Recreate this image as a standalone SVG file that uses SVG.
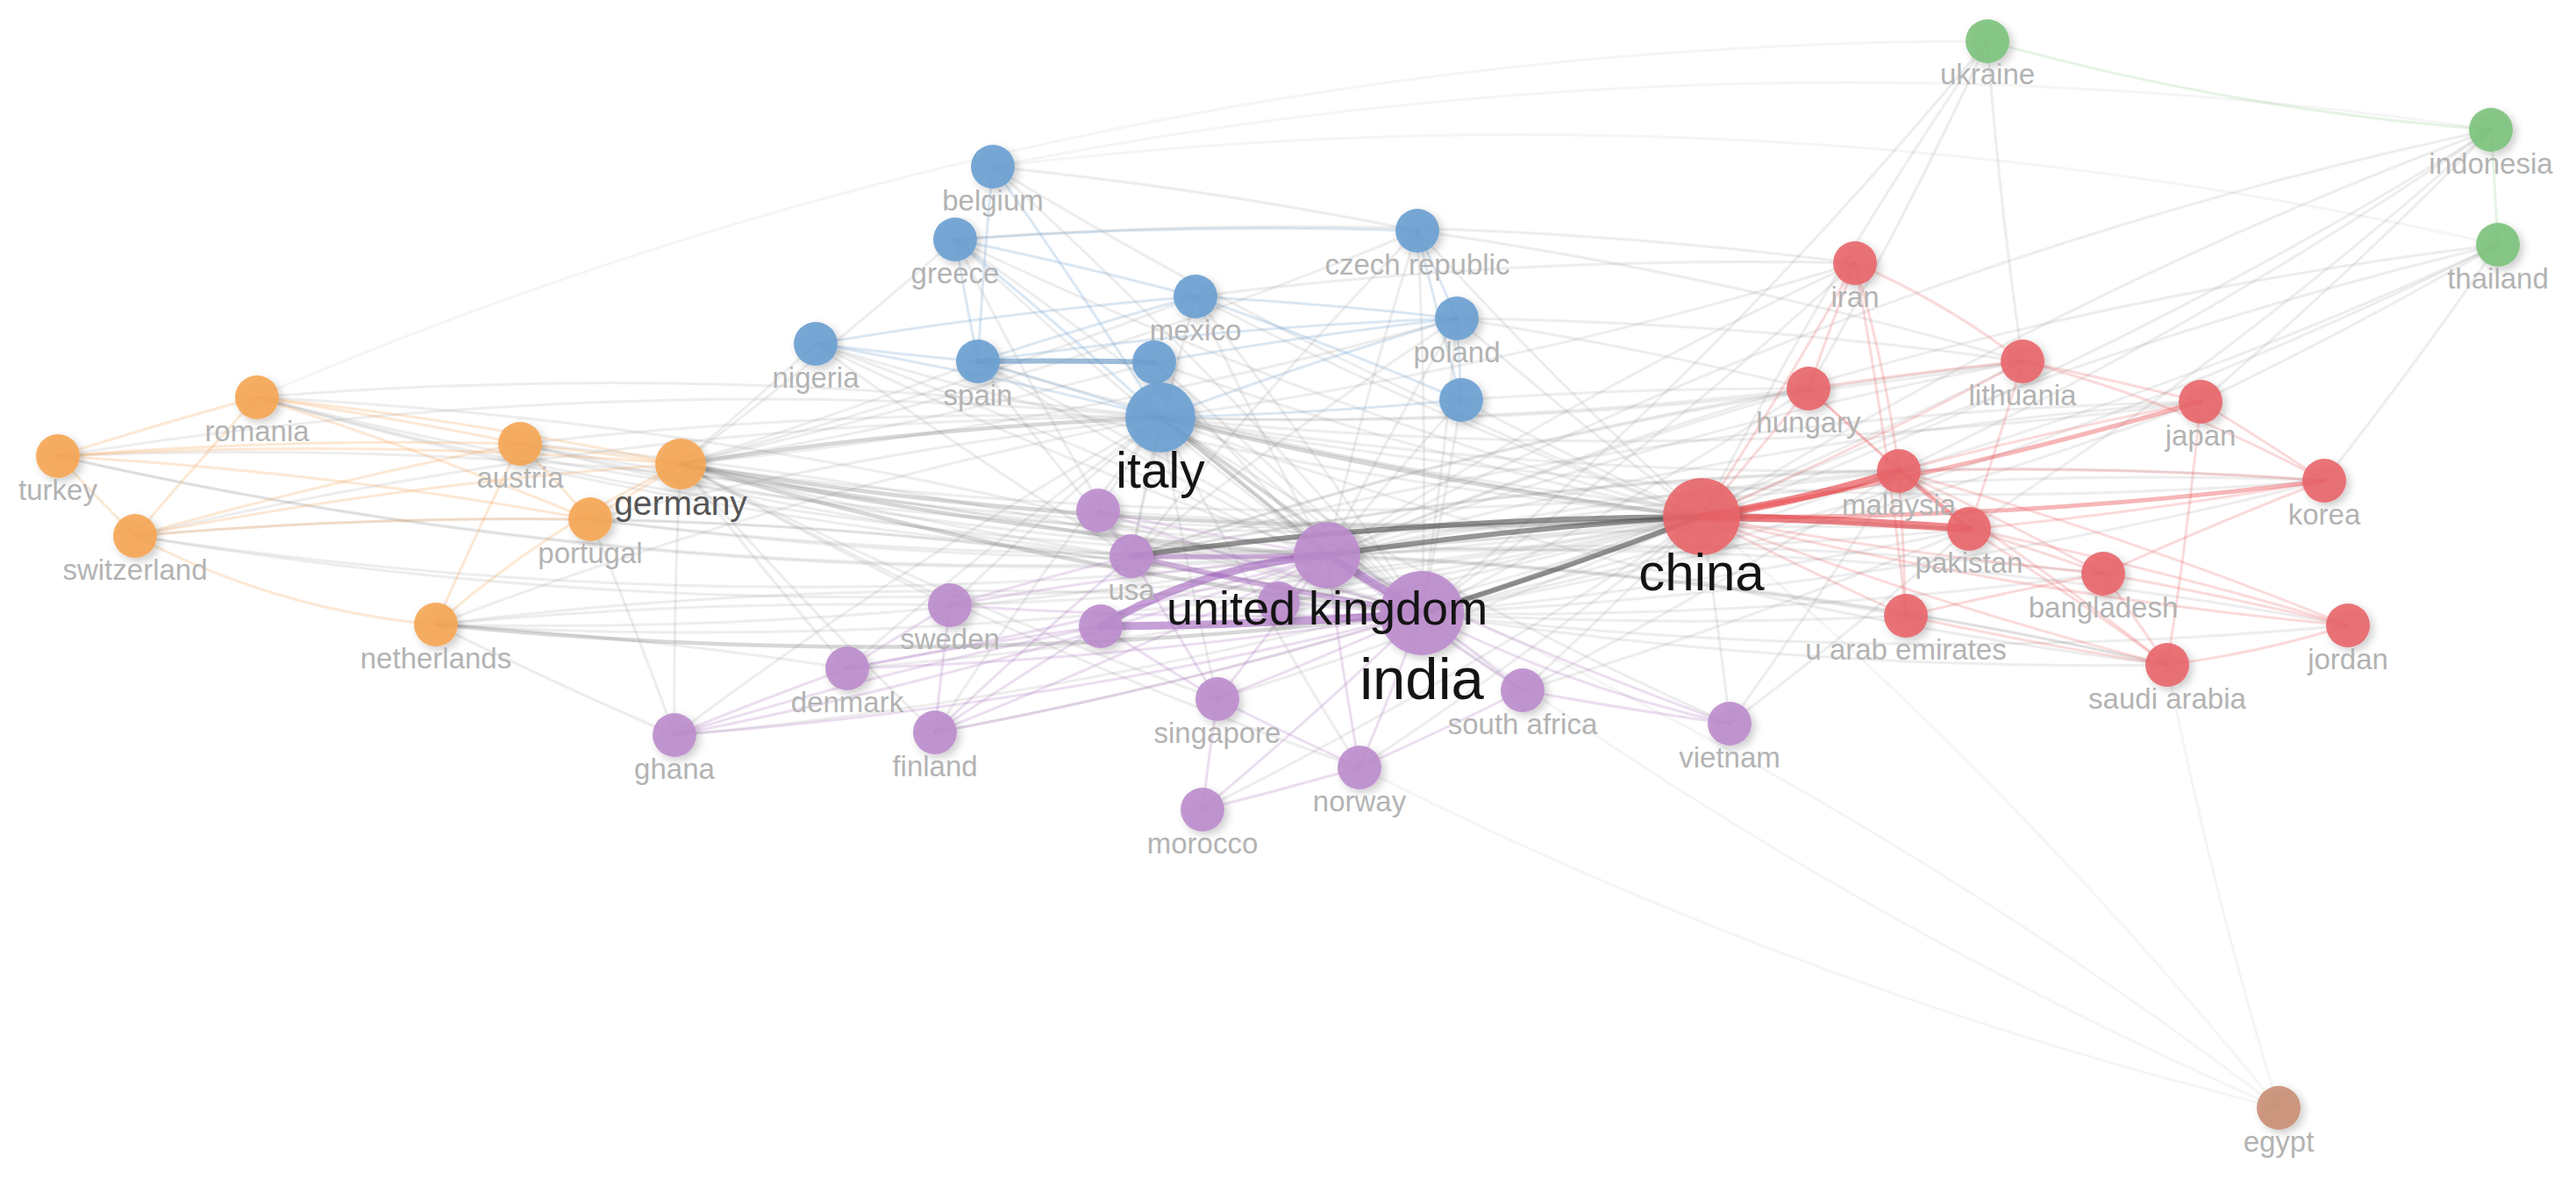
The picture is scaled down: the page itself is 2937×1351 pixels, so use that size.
<svg xmlns="http://www.w3.org/2000/svg" width="2937" height="1351" viewBox="0 0 2937 1351">
<defs>
<filter id="sh" x="-50%" y="-50%" width="200%" height="200%"><feDropShadow dx="4" dy="4" stdDeviation="5" flood-color="#000" flood-opacity="0.22"/></filter>
<style>
path{fill:none;stroke-linecap:round}
.e{stroke:#8c8c8c;stroke-opacity:.16;stroke-width:3}
.ef{stroke:#8c8c8c;stroke-opacity:.09;stroke-width:3}
.e2{stroke:#7a7a7a;stroke-opacity:.3;stroke-width:4.5}
.e3{stroke:#505050;stroke-opacity:.6;stroke-width:6}
.r1{stroke:#e8585c;stroke-opacity:.22;stroke-width:3}
.r2{stroke:#e8484c;stroke-opacity:.4;stroke-width:5}
.r3{stroke:#e4363b;stroke-opacity:.6;stroke-width:9}
.b1{stroke:#6a9fd0;stroke-opacity:.25;stroke-width:3}
.b2{stroke:#5a8fc0;stroke-opacity:.6;stroke-width:6}
.o1{stroke:#f5a553;stroke-opacity:.25;stroke-width:3}
.p1{stroke:#b07cc4;stroke-opacity:.25;stroke-width:3}
.p2{stroke:#a86cc0;stroke-opacity:.5;stroke-width:6}
.p3{stroke:#a060bc;stroke-opacity:.6;stroke-width:9}
.g1{stroke:#7cc27c;stroke-opacity:.2;stroke-width:3}
circle{filter:url(#sh);fill-opacity:.9}
.cr{fill:#e86569}.cb{fill:#6a9fd0}.cg{fill:#7cc27c}.co{fill:#f5a553}.cp{fill:#bb8ccc}.cn{fill:#c98e74}
text{font-family:"Liberation Sans",Arial,sans-serif;text-anchor:middle}
.l{font-size:33px;fill:#b3b3b3}
.L{fill:#141414}
</style>
</defs>
<rect width="2937" height="1351" fill="#fff"/>
<g id="connectors">
<path class="e" d="M1940 589A5000 5000 0 0 1 293 453"/>
<path class="e" d="M1940 589A5000 5000 0 0 1 66 520"/>
<path class="e" d="M1940 589A5000 5000 0 0 1 593 506"/>
<path class="e" d="M1940 589A5000 5000 0 0 1 154 611"/>
<path class="e" d="M1940 589A5000 5000 0 0 1 673 592"/>
<path class="e" d="M1940 589A5000 5000 0 0 1 497 712"/>
<path class="e" d="M1940 589A5000 5000 0 0 1 1115 412"/>
<path class="e" d="M1940 589A5000 5000 0 0 1 1089 273"/>
<path class="e" d="M1940 589A5000 5000 0 0 1 1132 190"/>
<path class="e" d="M1940 589A5000 5000 0 0 1 930 392"/>
<path class="e" d="M1940 589A5000 5000 0 0 1 1363 338"/>
<path class="e" d="M1940 589A5000 5000 0 0 1 1661 363"/>
<path class="e" d="M1940 589A5000 5000 0 0 1 1616 263"/>
<path class="e" d="M1940 589A5000 5000 0 0 1 1316 413"/>
<path class="e" d="M1940 589A5000 5000 0 0 1 1666 456"/>
<path class="e" d="M1940 589A5000 5000 0 0 1 1252 582"/>
<path class="e" d="M1940 589A5000 5000 0 0 1 1458 687"/>
<path class="e" d="M1940 589A5000 5000 0 0 1 1083 690"/>
<path class="e" d="M1940 589A5000 5000 0 0 1 966 762"/>
<path class="e" d="M1940 589A5000 5000 0 0 1 1066 835"/>
<path class="e" d="M1940 589A5000 5000 0 0 1 769 838"/>
<path class="e" d="M1940 589A5000 5000 0 0 1 1388 797"/>
<path class="e" d="M1940 589A5000 5000 0 0 1 1736 787"/>
<path class="e" d="M1940 589A5000 5000 0 0 1 1972 825"/>
<path class="e" d="M1940 589A5000 5000 0 0 1 1550 875"/>
<path class="e" d="M1940 589A5000 5000 0 0 1 1371 923"/>
<path class="e" d="M1940 589A5000 5000 0 0 1 2266 47"/>
<path class="e" d="M1940 589A5000 5000 0 0 1 2840 148"/>
<path class="e" d="M1940 589A5000 5000 0 0 1 2848 279"/>
<path class="ef" d="M1940 589A5000 5000 0 0 1 2598 1263"/>
<path class="e" d="M1621 699A5000 5000 0 0 0 293 453"/>
<path class="e" d="M1621 699A5000 5000 0 0 0 66 520"/>
<path class="e" d="M1621 699A5000 5000 0 0 0 593 506"/>
<path class="e" d="M1621 699A5000 5000 0 0 0 154 611"/>
<path class="e" d="M1621 699A5000 5000 0 0 0 673 592"/>
<path class="e" d="M1621 699A5000 5000 0 0 0 497 712"/>
<path class="e" d="M1621 699A5000 5000 0 0 0 1115 412"/>
<path class="e" d="M1621 699A5000 5000 0 0 0 1089 273"/>
<path class="e" d="M1621 699A5000 5000 0 0 0 1132 190"/>
<path class="e" d="M1621 699A5000 5000 0 0 0 930 392"/>
<path class="e" d="M1621 699A5000 5000 0 0 0 1363 338"/>
<path class="e" d="M1621 699A5000 5000 0 0 0 1661 363"/>
<path class="e" d="M1621 699A5000 5000 0 0 0 1616 263"/>
<path class="e" d="M1621 699A5000 5000 0 0 0 1316 413"/>
<path class="e" d="M1621 699A5000 5000 0 0 0 1666 456"/>
<path class="e" d="M1621 699A5000 5000 0 0 0 2165 537"/>
<path class="e" d="M1621 699A5000 5000 0 0 0 2245 603"/>
<path class="e" d="M1621 699A5000 5000 0 0 0 2398 654"/>
<path class="e" d="M1621 699A5000 5000 0 0 0 2471 758"/>
<path class="e" d="M1621 699A5000 5000 0 0 0 2173 702"/>
<path class="e" d="M1621 699A5000 5000 0 0 0 2677 713"/>
<path class="e" d="M1621 699A5000 5000 0 0 0 2650 548"/>
<path class="e" d="M1621 699A5000 5000 0 0 0 2509 458"/>
<path class="e" d="M1621 699A5000 5000 0 0 0 2306 412"/>
<path class="e" d="M1621 699A5000 5000 0 0 0 2062 443"/>
<path class="e" d="M1621 699A5000 5000 0 0 0 2115 300"/>
<path class="e" d="M1621 699A5000 5000 0 0 0 2266 47"/>
<path class="e" d="M1621 699A5000 5000 0 0 0 2840 148"/>
<path class="e" d="M1621 699A5000 5000 0 0 0 2848 279"/>
<path class="ef" d="M1621 699A5000 5000 0 0 0 2598 1263"/>
<path class="e" d="M1513 633A5000 5000 0 0 1 593 506"/>
<path class="e" d="M1513 633A5000 5000 0 0 1 293 453"/>
<path class="e" d="M1513 633A5000 5000 0 0 1 673 592"/>
<path class="e" d="M1513 633A5000 5000 0 0 1 497 712"/>
<path class="e" d="M1513 633A5000 5000 0 0 1 154 611"/>
<path class="e" d="M1513 633A5000 5000 0 0 1 66 520"/>
<path class="e" d="M1513 633A5000 5000 0 0 1 1115 412"/>
<path class="e" d="M1513 633A5000 5000 0 0 1 1089 273"/>
<path class="e" d="M1513 633A5000 5000 0 0 1 930 392"/>
<path class="e" d="M1513 633A5000 5000 0 0 1 1363 338"/>
<path class="e" d="M1513 633A5000 5000 0 0 1 1661 363"/>
<path class="e" d="M1513 633A5000 5000 0 0 1 1616 263"/>
<path class="e" d="M1513 633A5000 5000 0 0 1 1316 413"/>
<path class="e" d="M1513 633A5000 5000 0 0 1 1666 456"/>
<path class="e" d="M1513 633A5000 5000 0 0 1 2165 537"/>
<path class="e" d="M1513 633A5000 5000 0 0 1 2245 603"/>
<path class="e" d="M1513 633A5000 5000 0 0 1 2398 654"/>
<path class="e" d="M1513 633A5000 5000 0 0 1 2471 758"/>
<path class="e" d="M1513 633A5000 5000 0 0 1 2173 702"/>
<path class="e" d="M1513 633A5000 5000 0 0 1 2677 713"/>
<path class="e" d="M1513 633A5000 5000 0 0 1 2650 548"/>
<path class="e" d="M1513 633A5000 5000 0 0 1 2509 458"/>
<path class="e" d="M1513 633A5000 5000 0 0 1 2306 412"/>
<path class="e" d="M1513 633A5000 5000 0 0 1 2062 443"/>
<path class="e" d="M1513 633A5000 5000 0 0 1 2115 300"/>
<path class="e" d="M1513 633A5000 5000 0 0 1 2840 148"/>
<path class="e" d="M1513 633A5000 5000 0 0 1 2848 279"/>
<path class="ef" d="M1513 633A5000 5000 0 0 1 2598 1263"/>
<path class="e" d="M1323 476A5000 5000 0 0 0 293 453"/>
<path class="e" d="M1323 476A5000 5000 0 0 0 66 520"/>
<path class="e" d="M1323 476A5000 5000 0 0 0 593 506"/>
<path class="e" d="M1323 476A5000 5000 0 0 0 673 592"/>
<path class="e" d="M1323 476A5000 5000 0 0 0 497 712"/>
<path class="e" d="M1323 476A5000 5000 0 0 0 154 611"/>
<path class="e" d="M1323 476A5000 5000 0 0 0 1290 634"/>
<path class="e" d="M1323 476A5000 5000 0 0 0 1252 582"/>
<path class="e" d="M1323 476A5000 5000 0 0 0 1083 690"/>
<path class="e" d="M1323 476A5000 5000 0 0 0 966 762"/>
<path class="e" d="M1323 476A5000 5000 0 0 0 1066 835"/>
<path class="e" d="M1323 476A5000 5000 0 0 0 769 838"/>
<path class="e" d="M1323 476A5000 5000 0 0 0 1388 797"/>
<path class="e" d="M1323 476A5000 5000 0 0 0 1736 787"/>
<path class="e" d="M1323 476A5000 5000 0 0 0 1550 875"/>
<path class="e" d="M1323 476A5000 5000 0 0 0 2165 537"/>
<path class="e" d="M1323 476A5000 5000 0 0 0 2245 603"/>
<path class="e" d="M1323 476A5000 5000 0 0 0 2062 443"/>
<path class="e" d="M1323 476A5000 5000 0 0 0 2306 412"/>
<path class="e" d="M1323 476A5000 5000 0 0 0 2115 300"/>
<path class="e" d="M1323 476A5000 5000 0 0 0 2471 758"/>
<path class="e" d="M1323 476A5000 5000 0 0 0 1972 825"/>
<path class="e" d="M1323 476A5000 5000 0 0 0 2650 548"/>
<path class="e" d="M1323 476A5000 5000 0 0 0 2509 458"/>
<path class="e" d="M1290 634A5000 5000 0 0 1 776 529"/>
<path class="e" d="M1290 634A5000 5000 0 0 1 593 506"/>
<path class="e" d="M1290 634A5000 5000 0 0 1 293 453"/>
<path class="e" d="M1290 634A5000 5000 0 0 1 1115 412"/>
<path class="e" d="M1290 634A5000 5000 0 0 1 1089 273"/>
<path class="e" d="M1290 634A5000 5000 0 0 1 930 392"/>
<path class="e" d="M1290 634A5000 5000 0 0 1 1363 338"/>
<path class="e" d="M1290 634A5000 5000 0 0 1 1661 363"/>
<path class="e" d="M1290 634A5000 5000 0 0 1 1616 263"/>
<path class="e" d="M1290 634A5000 5000 0 0 1 2165 537"/>
<path class="e" d="M1290 634A5000 5000 0 0 1 2245 603"/>
<path class="e" d="M1290 634A5000 5000 0 0 1 2471 758"/>
<path class="e" d="M1290 634A5000 5000 0 0 1 2650 548"/>
<path class="e" d="M1290 634A5000 5000 0 0 1 2509 458"/>
<path class="e" d="M1290 634A5000 5000 0 0 1 2306 412"/>
<path class="e" d="M1290 634A5000 5000 0 0 1 2062 443"/>
<path class="e" d="M776 529A5000 5000 0 0 0 1115 412"/>
<path class="e" d="M776 529A5000 5000 0 0 0 1316 413"/>
<path class="e" d="M776 529A5000 5000 0 0 0 1661 363"/>
<path class="e" d="M776 529A5000 5000 0 0 0 1363 338"/>
<path class="e" d="M776 529A5000 5000 0 0 0 1083 690"/>
<path class="e" d="M776 529A5000 5000 0 0 0 966 762"/>
<path class="e" d="M776 529A5000 5000 0 0 0 1550 875"/>
<path class="e" d="M776 529A5000 5000 0 0 0 1066 835"/>
<path class="e" d="M776 529A5000 5000 0 0 0 769 838"/>
<path class="e" d="M776 529A5000 5000 0 0 0 1388 797"/>
<path class="e" d="M776 529A5000 5000 0 0 0 2165 537"/>
<path class="e" d="M776 529A5000 5000 0 0 0 2245 603"/>
<path class="e" d="M776 529A5000 5000 0 0 0 1089 273"/>
<path class="e" d="M776 529A5000 5000 0 0 0 930 392"/>
<path class="e" d="M776 529A5000 5000 0 0 0 1616 263"/>
<path class="ef" d="M293 453A5000 5000 0 0 1 2266 47"/>
<path class="ef" d="M1132 190A5000 5000 0 0 1 2848 279"/>
<path class="ef" d="M1132 190A5000 5000 0 0 1 2840 148"/>
<path class="e" d="M1132 190A5000 5000 0 0 1 1616 263"/>
<path class="e" d="M1089 273A5000 5000 0 0 1 2115 300"/>
<path class="e" d="M2165 537A5000 5000 0 0 0 2840 148"/>
<path class="e" d="M2165 537A5000 5000 0 0 0 2848 279"/>
<path class="e" d="M2245 603A5000 5000 0 0 0 2840 148"/>
<path class="e" d="M2650 548A5000 5000 0 0 0 2848 279"/>
<path class="e" d="M2509 458A5000 5000 0 0 0 2840 148"/>
<path class="e" d="M2509 458A5000 5000 0 0 0 2848 279"/>
<path class="e" d="M2062 443A5000 5000 0 0 0 2266 47"/>
<path class="e" d="M1666 456A5000 5000 0 0 1 2062 443"/>
<path class="e" d="M1661 363A5000 5000 0 0 1 2062 443"/>
<path class="e" d="M1661 363A5000 5000 0 0 1 2306 412"/>
<path class="e" d="M1616 263A5000 5000 0 0 1 2306 412"/>
<path class="e" d="M1363 338A5000 5000 0 0 1 2115 300"/>
<path class="e" d="M673 592A5000 5000 0 0 1 769 838"/>
<path class="e" d="M497 712A5000 5000 0 0 0 769 838"/>
<path class="e" d="M497 712A5000 5000 0 0 1 966 762"/>
<path class="e" d="M1083 690A5000 5000 0 0 0 497 712"/>
<path class="e" d="M1972 825A5000 5000 0 0 0 2165 537"/>
<path class="e" d="M1972 825A5000 5000 0 0 0 2245 603"/>
<path class="e" d="M1736 787A5000 5000 0 0 0 2165 537"/>
<path class="e" d="M1736 787A5000 5000 0 0 0 2245 603"/>
<path class="ef" d="M2598 1263A5000 5000 0 0 1 2471 758"/>
<path class="ef" d="M2598 1263A5000 5000 0 0 1 1550 875"/>
<path class="e" d="M2306 412A5000 5000 0 0 1 2266 47"/>
<path class="o1" d="M66 520A5000 5000 0 0 1 293 453"/>
<path class="o1" d="M66 520A5000 5000 0 0 1 593 506"/>
<path class="o1" d="M66 520A5000 5000 0 0 1 776 529"/>
<path class="o1" d="M66 520A5000 5000 0 0 0 154 611"/>
<path class="o1" d="M66 520A5000 5000 0 0 1 673 592"/>
<path class="o1" d="M293 453A5000 5000 0 0 1 593 506"/>
<path class="o1" d="M293 453A5000 5000 0 0 0 154 611"/>
<path class="o1" d="M293 453A5000 5000 0 0 1 776 529"/>
<path class="o1" d="M293 453A5000 5000 0 0 1 673 592"/>
<path class="o1" d="M593 506A5000 5000 0 0 1 776 529"/>
<path class="o1" d="M593 506A5000 5000 0 0 1 673 592"/>
<path class="o1" d="M776 529A5000 5000 0 0 1 673 592"/>
<path class="o1" d="M776 529A1200 1200 0 0 0 497 712"/>
<path class="o1" d="M154 611A900 900 0 0 0 497 712"/>
<path class="o1" d="M154 611A5000 5000 0 0 1 776 529"/>
<path class="o1" d="M154 611A5000 5000 0 0 1 593 506"/>
<path class="o1" d="M154 611A5000 5000 0 0 1 673 592"/>
<path class="o1" d="M497 712A5000 5000 0 0 1 593 506"/>
<path class="b1" d="M930 392A5000 5000 0 0 0 1115 412"/>
<path class="b1" d="M930 392A5000 5000 0 0 1 1323 476"/>
<path class="b1" d="M930 392A5000 5000 0 0 1 1363 338"/>
<path class="b1" d="M1363 338A5000 5000 0 0 1 1661 363"/>
<path class="b1" d="M1363 338A5000 5000 0 0 1 1666 456"/>
<path class="b1" d="M1089 273A5000 5000 0 0 1 1363 338"/>
<path class="b1" d="M1089 273A5000 5000 0 0 1 1616 263"/>
<path class="b1" d="M1132 190A5000 5000 0 0 1 1323 476"/>
<path class="b1" d="M1089 273A5000 5000 0 0 1 1323 476"/>
<path class="b1" d="M1115 412A5000 5000 0 0 1 1323 476"/>
<path class="b1" d="M1616 263A5000 5000 0 0 1 1661 363"/>
<path class="b1" d="M1661 363A5000 5000 0 0 1 1666 456"/>
<path class="b1" d="M1616 263A5000 5000 0 0 0 1666 456"/>
<path class="b1" d="M1115 412A5000 5000 0 0 1 1661 363"/>
<path class="b1" d="M1115 412A5000 5000 0 0 1 1363 338"/>
<path class="b1" d="M1316 413A5000 5000 0 0 1 1661 363"/>
<path class="b1" d="M1132 190A5000 5000 0 0 0 1115 412"/>
<path class="b1" d="M1089 273A5000 5000 0 0 0 1115 412"/>
<path class="b1" d="M1323 476A5000 5000 0 0 0 1666 456"/>
<path class="b1" d="M1323 476A5000 5000 0 0 1 1661 363"/>
<path class="p1" d="M1290 634A5000 5000 0 0 0 1252 582"/>
<path class="p1" d="M1290 634A5000 5000 0 0 0 1083 690"/>
<path class="p1" d="M1290 634A5000 5000 0 0 0 1388 797"/>
<path class="p1" d="M1290 634A5000 5000 0 0 0 1066 835"/>
<path class="p1" d="M1513 633A5000 5000 0 0 0 1458 687"/>
<path class="p1" d="M1513 633A5000 5000 0 0 0 1083 690"/>
<path class="p1" d="M1621 699A5000 5000 0 0 1 1458 687"/>
<path class="p1" d="M1621 699A5000 5000 0 0 1 1083 690"/>
<path class="p1" d="M1621 699A5000 5000 0 0 1 1736 787"/>
<path class="p1" d="M1621 699A1500 1500 0 0 0 1972 825"/>
<path class="p1" d="M1621 699A5000 5000 0 0 1 1550 875"/>
<path class="p1" d="M1621 699A5000 5000 0 0 1 1388 797"/>
<path class="p1" d="M1621 699A5000 5000 0 0 1 1371 923"/>
<path class="p1" d="M1513 633A5000 5000 0 0 1 1388 797"/>
<path class="p1" d="M1513 633A5000 5000 0 0 0 1550 875"/>
<path class="p1" d="M1513 633A5000 5000 0 0 1 966 762"/>
<path class="p1" d="M1513 633A5000 5000 0 0 1 1066 835"/>
<path class="p1" d="M1513 633A5000 5000 0 0 1 769 838"/>
<path class="p1" d="M1621 699A5000 5000 0 0 1 966 762"/>
<path class="p1" d="M1621 699A5000 5000 0 0 1 769 838"/>
<path class="p1" d="M1621 699A5000 5000 0 0 1 1066 835"/>
<path class="p1" d="M1255 714A5000 5000 0 0 0 966 762"/>
<path class="p1" d="M1255 714A5000 5000 0 0 0 1066 835"/>
<path class="p1" d="M1388 797A5000 5000 0 0 0 1371 923"/>
<path class="p1" d="M1550 875A5000 5000 0 0 1 1371 923"/>
<path class="p1" d="M1388 797A5000 5000 0 0 0 1550 875"/>
<path class="p1" d="M1736 787A5000 5000 0 0 0 1972 825"/>
<path class="p1" d="M1736 787A5000 5000 0 0 1 1550 875"/>
<path class="p1" d="M1252 582A5000 5000 0 0 0 1513 633"/>
<path class="p1" d="M1252 582A5000 5000 0 0 0 1621 699"/>
<path class="p1" d="M1083 690A5000 5000 0 0 0 966 762"/>
<path class="p1" d="M1083 690A5000 5000 0 0 0 1066 835"/>
<path class="p1" d="M769 838A5000 5000 0 0 1 966 762"/>
<path class="p1" d="M769 838A5000 5000 0 0 1 1255 714"/>
<path class="p1" d="M1255 714A5000 5000 0 0 0 1388 797"/>
<path class="p1" d="M1513 633A5000 5000 0 0 0 1972 825"/>
<path class="p1" d="M1513 633A5000 5000 0 0 0 1736 787"/>
<path class="r1" d="M1940 589A5000 5000 0 0 0 2398 654"/>
<path class="r1" d="M1940 589A5000 5000 0 0 0 2173 702"/>
<path class="r1" d="M1940 589A5000 5000 0 0 0 2471 758"/>
<path class="r1" d="M1940 589A5000 5000 0 0 0 2306 412"/>
<path class="r1" d="M1940 589A5000 5000 0 0 0 2062 443"/>
<path class="r1" d="M1940 589A5000 5000 0 0 0 2115 300"/>
<path class="r1" d="M1940 589A5000 5000 0 0 0 2677 713"/>
<path class="r2" d="M2165 537A5000 5000 0 0 1 2245 603"/>
<path class="r1" d="M2165 537A5000 5000 0 0 1 2509 458"/>
<path class="r1" d="M2165 537A5000 5000 0 0 1 2650 548"/>
<path class="r1" d="M2165 537A5000 5000 0 0 1 2398 654"/>
<path class="r1" d="M2165 537A1500 1500 0 0 0 2115 300"/>
<path class="r1" d="M2165 537A5000 5000 0 0 1 2173 702"/>
<path class="r1" d="M2165 537A5000 5000 0 0 1 2471 758"/>
<path class="r1" d="M2165 537A5000 5000 0 0 1 2677 713"/>
<path class="r1" d="M2245 603A5000 5000 0 0 1 2398 654"/>
<path class="r1" d="M2245 603A5000 5000 0 0 1 2471 758"/>
<path class="r1" d="M2245 603A5000 5000 0 0 1 2677 713"/>
<path class="r1" d="M2245 603A5000 5000 0 0 0 2650 548"/>
<path class="r1" d="M2398 654A5000 5000 0 0 1 2471 758"/>
<path class="r1" d="M2398 654A5000 5000 0 0 1 2677 713"/>
<path class="r1" d="M2471 758A1200 1200 0 0 0 2677 713"/>
<path class="r1" d="M2173 702A5000 5000 0 0 0 2471 758"/>
<path class="r1" d="M2173 702A5000 5000 0 0 1 2398 654"/>
<path class="r1" d="M2115 300A900 900 0 0 1 2306 412"/>
<path class="r1" d="M2115 300A5000 5000 0 0 0 2062 443"/>
<path class="r1" d="M2115 300A5000 5000 0 0 1 2173 702"/>
<path class="r1" d="M2306 412A1500 1500 0 0 1 2650 548"/>
<path class="r1" d="M2306 412A5000 5000 0 0 1 2509 458"/>
<path class="r1" d="M2509 458A5000 5000 0 0 1 2650 548"/>
<path class="r1" d="M2509 458A5000 5000 0 0 1 2471 758"/>
<path class="r1" d="M2062 443A5000 5000 0 0 1 2165 537"/>
<path class="r1" d="M2306 412A5000 5000 0 0 1 2245 603"/>
<path class="r1" d="M2062 443A5000 5000 0 0 0 2245 603"/>
<path class="r1" d="M2062 443A5000 5000 0 0 1 2306 412"/>
<path class="r1" d="M2398 654A5000 5000 0 0 1 2650 548"/>
<path class="g1" d="M2266 47A3000 3000 0 0 0 2840 148"/>
<path class="g1" d="M2840 148A5000 5000 0 0 1 2848 279"/>
<path class="e2" d="M1940 589A5000 5000 0 0 1 1323 476"/>
<path class="e2" d="M1940 589A5000 5000 0 0 1 776 529"/>
<path class="e2" d="M1323 476A5000 5000 0 0 1 1621 699"/>
<path class="e2" d="M1323 476A5000 5000 0 0 1 1513 633"/>
<path class="e2" d="M776 529A5000 5000 0 0 1 1323 476"/>
<path class="e2" d="M776 529A5000 5000 0 0 0 1513 633"/>
<path class="e2" d="M776 529A5000 5000 0 0 0 1621 699"/>
<path class="e2" d="M497 712A5000 5000 0 0 0 1621 699"/>
<path class="e3" d="M1940 589A5000 5000 0 0 1 1621 699"/>
<path class="e3" d="M1940 589A5000 5000 0 0 0 1290 634"/>
<path class="e3" d="M1940 589A5000 5000 0 0 0 1513 633"/>
<path class="b2" d="M1115 412A5000 5000 0 0 1 1316 413"/>
<path class="p2" d="M1513 633A5000 5000 0 0 1 1290 634"/>
<path class="p2" d="M1621 699A5000 5000 0 0 1 1290 634"/>
<path class="p3" d="M1513 633A600 600 0 0 0 1255 714"/>
<path class="p3" d="M1621 699A5000 5000 0 0 1 1255 714"/>
<path class="p3" d="M1513 633A5000 5000 0 0 1 1621 699"/>
<path class="r2" d="M1940 589A5000 5000 0 0 0 2650 548"/>
<path class="r2" d="M1940 589A5000 5000 0 0 0 2509 458"/>
<path class="r3" d="M1940 589A1500 1500 0 0 0 2165 537"/>
<path class="r3" d="M1940 589A5000 5000 0 0 1 2245 603"/>
</g>
<g id="nodes">
<g id="n-romania"><circle class="co" cx="293" cy="453" r="25"/><text class="l" x="293" y="503">romania</text></g>
<g id="n-turkey"><circle class="co" cx="66" cy="520" r="25"/><text class="l" x="66" y="570">turkey</text></g>
<g id="n-austria"><circle class="co" cx="593" cy="506" r="25"/><text class="l" x="593" y="556">austria</text></g>
<g id="n-switzerland"><circle class="co" cx="154" cy="611" r="25"/><text class="l" x="154" y="661">switzerland</text></g>
<g id="n-portugal"><circle class="co" cx="673" cy="592" r="25"/><text class="l" x="673" y="642">portugal</text></g>
<g id="n-netherlands"><circle class="co" cx="497" cy="712" r="25"/><text class="l" x="497" y="762">netherlands</text></g>
<g id="n-germany"><circle class="co" cx="776" cy="529" r="29"/><text x="776" y="587" font-size="39" fill="#555">germany</text></g>
<g id="n-belgium"><circle class="cb" cx="1132" cy="190" r="25"/><text class="l" x="1132" y="240">belgium</text></g>
<g id="n-greece"><circle class="cb" cx="1089" cy="273" r="25"/><text class="l" x="1089" y="323">greece</text></g>
<g id="n-czech"><circle class="cb" cx="1616" cy="263" r="25"/><text class="l" x="1616" y="313">czech republic</text></g>
<g id="n-mexico"><circle class="cb" cx="1363" cy="338" r="25"/><text class="l" x="1363" y="388">mexico</text></g>
<g id="n-poland"><circle class="cb" cx="1661" cy="363" r="25"/><text class="l" x="1661" y="413">poland</text></g>
<g id="n-nigeria"><circle class="cb" cx="930" cy="392" r="25"/><text class="l" x="930" y="442">nigeria</text></g>
<g id="n-spain"><circle class="cb" cx="1115" cy="412" r="25"/><text class="l" x="1115" y="462">spain</text></g>
<g id="n-blue1"><circle class="cb" cx="1316" cy="413" r="25"/></g>
<g id="n-blue2"><circle class="cb" cx="1666" cy="456" r="25"/></g>
<g id="n-italy"><circle class="cb" cx="1323" cy="476" r="40"/><text class="L" x="1323" y="556" font-size="57">italy</text></g>
<g id="n-purple1"><circle class="cp" cx="1252" cy="582" r="25"/></g>
<g id="n-usa"><circle class="cp" cx="1290" cy="634" r="25"/><text class="l" x="1290" y="684">usa</text></g>
<g id="n-sweden"><circle class="cp" cx="1083" cy="690" r="25"/><text class="l" x="1083" y="740">sweden</text></g>
<g id="n-purple3"><circle class="cp" cx="1255" cy="714" r="25"/></g>
<g id="n-denmark"><circle class="cp" cx="966" cy="762" r="25"/><text class="l" x="966" y="812">denmark</text></g>
<g id="n-ghana"><circle class="cp" cx="769" cy="838" r="25"/><text class="l" x="769" y="888">ghana</text></g>
<g id="n-finland"><circle class="cp" cx="1066" cy="835" r="25"/><text class="l" x="1066" y="885">finland</text></g>
<g id="n-singapore"><circle class="cp" cx="1388" cy="797" r="25"/><text class="l" x="1388" y="847">singapore</text></g>
<g id="n-southafrica"><circle class="cp" cx="1736" cy="787" r="25"/><text class="l" x="1736" y="837">south africa</text></g>
<g id="n-vietnam"><circle class="cp" cx="1972" cy="825" r="25"/><text class="l" x="1972" y="875">vietnam</text></g>
<g id="n-norway"><circle class="cp" cx="1550" cy="875" r="25"/><text class="l" x="1550" y="925">norway</text></g>
<g id="n-morocco"><circle class="cp" cx="1371" cy="923" r="25"/><text class="l" x="1371" y="973">morocco</text></g>
<g id="n-uk"><circle class="cp" cx="1513" cy="633" r="38"/></g>
<g id="n-purple2"><circle class="cp" cx="1458" cy="687" r="24"/></g>
<g id="n-india"><circle class="cp" cx="1621" cy="699" r="48"/></g>
<g id="n-iran"><circle class="cr" cx="2115" cy="300" r="25"/><text class="l" x="2115" y="350">iran</text></g>
<g id="n-lithuania"><circle class="cr" cx="2306" cy="412" r="25"/><text class="l" x="2306" y="462">lithuania</text></g>
<g id="n-hungary"><circle class="cr" cx="2062" cy="443" r="25"/><text class="l" x="2062" y="493">hungary</text></g>
<g id="n-japan"><circle class="cr" cx="2509" cy="458" r="25"/><text class="l" x="2509" y="508">japan</text></g>
<g id="n-malaysia"><circle class="cr" cx="2165" cy="537" r="25"/><text class="l" x="2165" y="587">malaysia</text></g>
<g id="n-korea"><circle class="cr" cx="2650" cy="548" r="25"/><text class="l" x="2650" y="598">korea</text></g>
<g id="n-pakistan"><circle class="cr" cx="2245" cy="603" r="25"/><text class="l" x="2245" y="653">pakistan</text></g>
<g id="n-bangladesh"><circle class="cr" cx="2398" cy="654" r="25"/><text class="l" x="2398" y="704">bangladesh</text></g>
<g id="n-uae"><circle class="cr" cx="2173" cy="702" r="25"/><text class="l" x="2173" y="752">u arab emirates</text></g>
<g id="n-jordan"><circle class="cr" cx="2677" cy="713" r="25"/><text class="l" x="2677" y="763">jordan</text></g>
<g id="n-saudi"><circle class="cr" cx="2471" cy="758" r="25"/><text class="l" x="2471" y="808">saudi arabia</text></g>
<g id="n-china"><circle class="cr" cx="1940" cy="589" r="44"/><text class="L" x="1940" y="673" font-size="60">china</text></g>
<g id="n-ukraine"><circle class="cg" cx="2266" cy="47" r="25"/><text class="l" x="2266" y="96">ukraine</text></g>
<g id="n-indonesia"><circle class="cg" cx="2840" cy="148" r="25"/><text class="l" x="2840" y="198">indonesia</text></g>
<g id="n-thailand"><circle class="cg" cx="2848" cy="279" r="25"/><text class="l" x="2848" y="329">thailand</text></g>
<g id="n-egypt"><circle class="cn" cx="2598" cy="1263" r="25"/><text class="l" x="2598" y="1313">egypt</text></g>
<g id="labels-top"><text class="L" x="1513" y="712" font-size="54">united kingdom</text><text class="L" x="1621" y="797" font-size="67">india</text></g>
</g>
</svg>
